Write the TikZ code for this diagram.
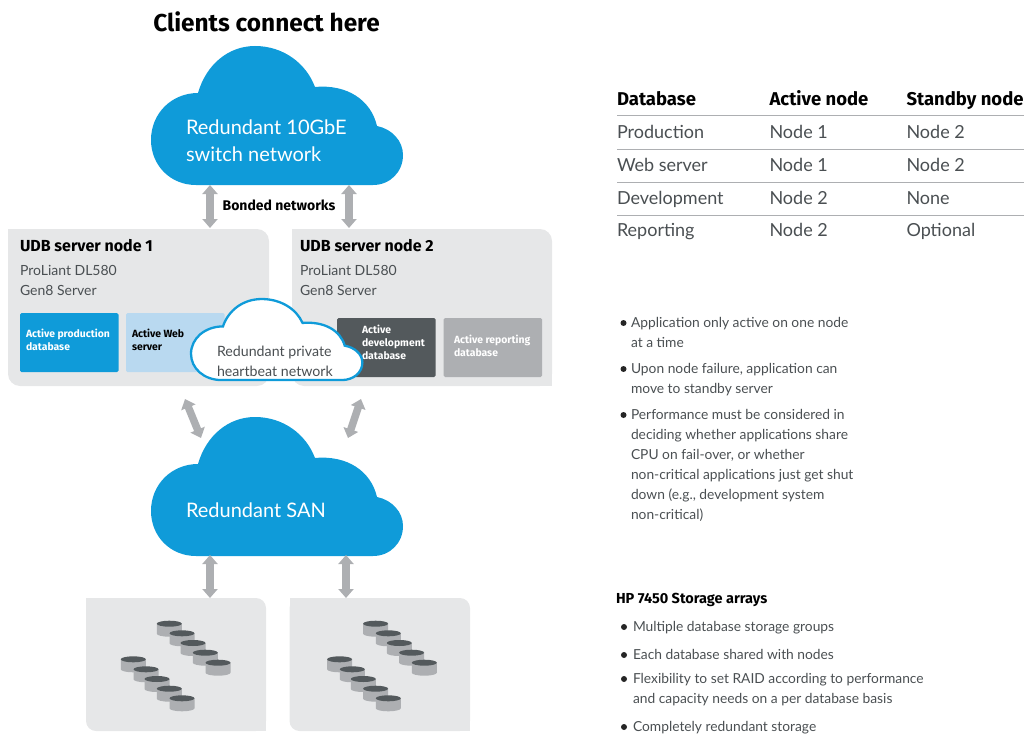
\documentclass[tikz,border=0pt]{standalone}
\usepackage{fontspec}
\setmainfont{Lato}[BoldFont={Fira Sans Bold}]
\usetikzlibrary{arrows.meta}
\definecolor{hpblue}{HTML}{0F9BD9}
\definecolor{hplight}{HTML}{B9D9F0}
\definecolor{hpdark}{HTML}{53595C}
\definecolor{hpmid}{HTML}{ADAFB2}
\definecolor{hppale}{HTML}{E6E7E8}
\definecolor{hptext}{HTML}{4A4F52}
\newcommand{\fsz}[2]{\fontsize{#1}{#2}\selectfont}
\newcommand{\cloudoutline}{(196,185) .. controls (170,185) and (151,165) .. (151,140)
 .. controls (151,113) and (172,93) .. (198,93)
 .. controls (206,65) and (228,46) .. (255,46)
 .. controls (283,46) and (306,63) .. (315,87)
 .. controls (347,84) and (371,100) .. (377,126)
 .. controls (392,129) and (403,141) .. (403,155)
 .. controls (403,172) and (390,185) .. (373,185) -- cycle}
\newcommand{\diskat}[2]{\fill[hpmid] (#1-12.5,#2) -- (#1-12.5,#2+10) arc[start angle=180,end angle=0,x radius=12.5,y radius=3] -- (#1+12.5,#2) -- cycle;
 \fill[hpdark] (#1,#2) ellipse[x radius=12.5,y radius=3];}
\newcommand{\diskbank}[1]{%
 \foreach \px/\py in {169.3/623.7,182/633.3,193/643,205.3/652.7,218/662.7,133.3/659.3,146/669.3,157/679,169.3/688.7,182/698.3}{\pgfmathsetmacro{\qx}{\px+#1}\diskat{\qx}{\py}}}
\tikzset{
 x=1pt,y=-1pt,
 every node/.style={inner sep=0pt,outer sep=0pt},
 biarrow/.style={draw=hpmid,line width=7.5pt,{Triangle[width=15pt,length=9pt]}-{Triangle[width=15pt,length=9pt]}},
 panel/.style={fill=hppale},
 dbbox/.style={rounded corners=1.5pt,minimum width=98.5pt,minimum height=59pt,anchor=north west},
 dblabel/.style={anchor=west,align=left,font=\bfseries\fsz{10.4}{13}},
 head/.style={anchor=base west,font=\fsz{16}{20}\bfseries,text=black},
 sub/.style={anchor=base west,font=\fsz{14}{20},text=hptext},
 colhead/.style={anchor=base west,font=\bfseries\fsz{18.5}{22},text=black},
 cell/.style={anchor=base west,font=\fsz{18}{22},text=hptext},
 rowline/.style={draw=hpmid,line width=0.8pt},
 para/.style={anchor=north west,align=left,font=\fsz{13.8}{19.9},text=hptext},
 dot/.style={circle,fill=black!85,minimum size=6pt},
}
\begin{document}
\begin{tikzpicture}
\useasboundingbox (0,0) rectangle (1024,733);
\clip (0,0) rectangle (1024,733);
% title
\node[anchor=base,font=\bfseries\fsz{24.4}{30},text=black] (title) at (266.5,32) {Clients connect here};
% server panels
\fill[panel,rounded corners=12pt] (8,229) -- (269,229) -- (269,386) -- (8,386) -- cycle;
\fill[panel] (8,229) rectangle (30,260);
\fill[panel,rounded corners=12pt] (292,229) -- (552,229) -- (552,386) -- (292,386) -- cycle;
\fill[panel] (292,229) rectangle (320,260);
\fill[panel] (530,360) rectangle (552,386);
\node[head] (n1) at (20,251.5) {UDB server node 1};
\node[sub] (n1a) at (20,275) {ProLiant DL580};
\node[sub] (n1b) at (20,295) {Gen8 Server};
\node[head] (n2) at (300,251.5) {UDB server node 2};
\node[sub] (n2a) at (300,275) {ProLiant DL580};
\node[sub] (n2b) at (300,295) {Gen8 Server};
% database boxes
\node[dbbox,fill=hpblue] (prod) at (20,313) {};
\node[dblabel,text=white] (prodt) at (26,340) {Active production\\database};
\node[dbbox,fill=hplight] (web) at (126,313) {};
\node[dblabel,text=black] (webt) at (132,340) {Active Web\\server};
\node[dbbox,fill=hpdark] (dev) at (337,318) {};
\node[dblabel,text=white] (devt) at (362,342) {Active\\development\\database};
\node[dbbox,fill=hpmid] (rep) at (443.5,318) {};
\node[dblabel,text=white] (rept) at (454,346) {Active reporting\\database};
% clouds
\fill[hpblue] \cloudoutline;
\node[anchor=west,align=left,text=white,font=\fsz{20}{27}] (swt) at (186,141) {Redundant 10GbE\\switch network};
\begin{scope}[yshift=-371pt]
\fill[hpblue] \cloudoutline;
\end{scope}
\node[anchor=west,text=white,font=\fsz{20}{27}] (sant) at (186,510) {Redundant SAN};
\begin{scope}[shift={(88.32,272.2)},xscale=.68,yscale=.583]
\filldraw[draw=hpblue,fill=white,line width=2.3pt] \cloudoutline;
\end{scope}
\node[anchor=west,align=left,text=hptext,font=\fsz{14.2}{20}] (hb) at (217,361.5) {Redundant private\\heartbeat network};
% arrows
\coordinate (a1) at (210,185); \coordinate (a2) at (210,228);
\coordinate (b1) at (349,185); \coordinate (b2) at (349,228);
\coordinate (c1) at (185,399); \coordinate (c2) at (201,438);
\coordinate (d1) at (361,399); \coordinate (d2) at (348,438);
\coordinate (e1) at (210,555); \coordinate (e2) at (210,598);
\coordinate (f1) at (346,555); \coordinate (f2) at (346,598);
\draw[biarrow] (a1) -- (a2);
\draw[biarrow] (b1) -- (b2);
\draw[biarrow] (c1) -- (c2);
\draw[biarrow] (d1) -- (d2);
\draw[biarrow] (e1) -- (e2);
\draw[biarrow] (f1) -- (f2);
\node[anchor=base,font=\bfseries\fsz{14}{17},text=black] (bond) at (279,210) {Bonded networks};
% storage panels
\fill[panel,rounded corners=10pt] (86,598) -- (266,598) -- (266,731) -- (86,731) -- cycle;
\fill[panel] (86,598) rectangle (100,612);
\fill[panel] (252,717) rectangle (266,731);
\fill[panel,rounded corners=10pt] (289.5,598) -- (470,598) -- (470,731) -- (289.5,731) -- cycle;
\fill[panel] (289.5,598) rectangle (303,612);
\fill[panel] (456,717) rectangle (470,731);
\diskbank{0}
\diskbank{206.3}
% table
\node[colhead] (h1) at (617,105.5) {Database};
\node[colhead] (h2) at (769.5,105.5) {Active node};
\node[colhead] (h3) at (906.5,105.5) {Standby node};
\coordinate (l1a) at (617,115.5); \coordinate (l1b) at (1024,115.5);
\coordinate (l2a) at (617,149); \coordinate (l2b) at (1024,149);
\coordinate (l3a) at (617,182); \coordinate (l3b) at (1024,182);
\coordinate (l4a) at (617,215.5); \coordinate (l4b) at (1024,215.5);
\draw[rowline] (l1a) -- (l1b);
\draw[rowline] (l2a) -- (l2b);
\draw[rowline] (l3a) -- (l3b);
\draw[rowline] (l4a) -- (l4b);
\node[cell] (r1a) at (617,138) {Production};
\node[cell] (r1b) at (769.5,138) {Node 1};
\node[cell] (r1c) at (906.5,138) {Node 2};
\node[cell] (r2a) at (617,171) {Web server};
\node[cell] (r2b) at (769.5,171) {Node 1};
\node[cell] (r2c) at (906.5,171) {Node 2};
\node[cell] (r3a) at (617,204) {Development};
\node[cell] (r3b) at (769.5,204) {Node 2};
\node[cell] (r3c) at (906.5,204) {None};
\node[cell] (r4a) at (617,236.5) {Reporting};
\node[cell] (r4b) at (769.5,236.5) {Node 2};
\node[cell] (r4c) at (906.5,236.5) {Optional};
% bullets
\node[dot] (b1d) at (623.5,323) {};
\node[para] (b1t) at (631,317.5) {Application only active on one node\\at a time};
\node[dot] (b2d) at (623.5,369) {};
\node[para] (b2t) at (631,363.5) {Upon node failure, application can\\move to standby server};
\node[dot] (b3d) at (623.5,415) {};
\node[para] (b3t) at (631,409.5) {Performance must be considered in\\deciding whether applications share\\CPU on fail-over, or whether\\non-critical applications just get shut\\down (e.g., development system\\non-critical)};
\node[anchor=base west,font=\bfseries\fsz{14.5}{18},text=black] (st) at (616,603) {HP 7450 Storage arrays};
\node[dot] (s1d) at (624,627) {};
\node[para] (s1t) at (633,621.5) {Multiple database storage groups};
\node[dot] (s2d) at (624,655) {};
\node[para] (s2t) at (633,649.5) {Each database shared with nodes};
\node[dot] (s3d) at (624,679) {};
\node[para] (s3t) at (633,673.5) {Flexibility to set RAID according to performance\\and capacity needs on a per database basis};
\node[dot] (s4d) at (624,727) {};
\node[para] (s4t) at (633,721.5) {Completely redundant storage};
\end{tikzpicture}
\end{document}
